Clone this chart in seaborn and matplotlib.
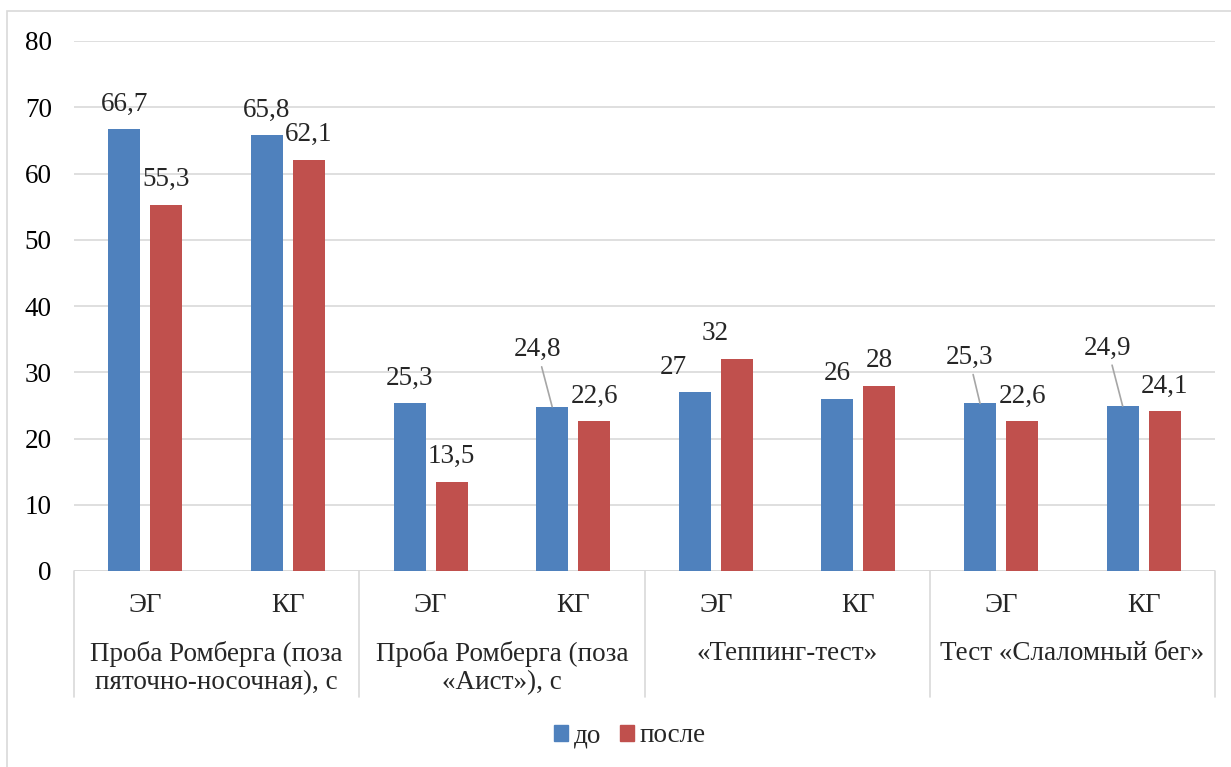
import matplotlib
matplotlib.use("Agg")
import matplotlib.pyplot as plt
from matplotlib.patches import Rectangle
from matplotlib.transforms import blended_transform_factory
import seaborn as sns
import pandas as pd

# Tests, groups and measurements
tests = [
    "Проба Ромберга (поза\nпяточно-носочная), с",
    "Проба Ромберга (поза\n«Аист»), с",
    "«Теппинг-тест»",
    "Тест «Слаломный бег»",
]
groups = ["ЭГ", "КГ"]
series = ["до", "после"]
before = [66.7, 65.8, 25.3, 24.8, 27, 26, 25.3, 24.9]
after = [55.3, 62.1, 13.5, 22.6, 32, 28, 22.6, 24.1]
y_ticks = [0, 10, 20, 30, 40, 50, 60, 70, 80]

colors = {"до": "#4F81BD", "после": "#C0504D"}
grid_col = "#D9D9D9"

keys = [f"{t}|{g}" for t in tests for g in groups]
df = pd.DataFrame({
    "key": keys * 2,
    "series": [series[0]] * len(keys) + [series[1]] * len(keys),
    "value": before + after,
})

sns.set_theme(style="white")
plt.rcParams["font.family"] = ["Liberation Serif", "DejaVu Serif"]
FS = 19.5

W, H = 1231, 767
fig = plt.figure(figsize=(W / 100, H / 100), dpi=100)
ax = fig.add_axes([74 / W, 1 - 571 / H, (1215 - 74) / W, (571 - 41) / H])

sns.barplot(data=df, x="key", y="value", hue="series", order=keys,
            hue_order=series, palette=colors, width=0.59, gap=0.24,
            linewidth=0, saturation=1, ax=ax, legend=False)

ax.set_ylim(0, 80)
ax.set_xlim(-0.5, len(keys) - 0.5)
ax.set_yticks(y_ticks)
ax.set_yticklabels([str(v) for v in y_ticks], fontsize=FS, color="black")
ax.tick_params(axis="y", length=0, pad=16)
ax.set_xticks([])
ax.set_xlabel("")
ax.set_ylabel("")
ax.yaxis.grid(True, color=grid_col, linewidth=1.2)
ax.set_axisbelow(True)
for s in ax.spines.values():
    s.set_visible(False)

# Category axis: baseline, separators, two levels of labels
trans = blended_transform_factory(ax.transData, ax.transAxes)
ax.axhline(0, color=grid_col, linewidth=1.2, zorder=0.5)
sep_bottom = -(697 - 571) / 530
for xs in [-0.5, 1.5, 3.5, 5.5, 7.5]:
    ax.plot([xs, xs], [0, sep_bottom], transform=trans, color=grid_col,
            linewidth=1.2, clip_on=False)
for i, k in enumerate(keys):
    ax.text(i, -(605 - 571) / 530, k.split("|")[1], transform=trans,
            ha="center", va="center", fontsize=FS)
for j, t in enumerate(tests):
    ax.text(2 * j + 0.5, -(641 - 571) / 530, t, transform=trans,
            ha="center", va="top", fontsize=FS, linespacing=1.18)

# Value labels; nudges (dx, dy in pixels) for the labels that sit aside
nudges = {
    (0, 3): (-15, 57), (0, 4): (-21, 25), (0, 6): (-11, 46), (0, 7): (-15, 58),
    (1, 4): (-22, 26),
}
leaders = {(0, 3), (0, 6), (0, 7)}
for si, vals in enumerate([before, after]):
    for i, (bar, v) in enumerate(zip(ax.containers[si], vals)):
        cx = bar.get_x() + bar.get_width() / 2
        dx, dy = nudges.get((si, i), (0, 25))
        txt = f"{v:g}".replace(".", ",")
        if (si, i) in leaders:
            ax.annotate(txt, xy=(cx, v), xytext=(dx, dy),
                        textcoords="offset pixels", ha="center", va="center",
                        fontsize=FS,
                        arrowprops=dict(arrowstyle="-", color="#A6A6A6",
                                        linewidth=1.2, shrinkA=1, shrinkB=0))
        else:
            ax.annotate(txt, xy=(cx, v), xytext=(dx, dy),
                        textcoords="offset pixels", ha="center", va="center",
                        fontsize=FS)

# Legend
handles = [Rectangle((0, 0), 1, 1, color=colors[s]) for s in series]
fig.legend(handles, series, loc="center", bbox_to_anchor=(630 / W, 1 - 736 / H),
           ncol=2, frameon=False, fontsize=FS, handlelength=0.52,
           handleheight=0.52, handletextpad=0.22, columnspacing=0.67)

# Chart frame
fig.add_artist(Rectangle((7 / W, -0.02), 1.1, 1 - 11 / H + 0.02,
                         transform=fig.transFigure, fill=False,
                         edgecolor=grid_col, linewidth=1.2))

fig.savefig("out.png", dpi=100, facecolor="white")
